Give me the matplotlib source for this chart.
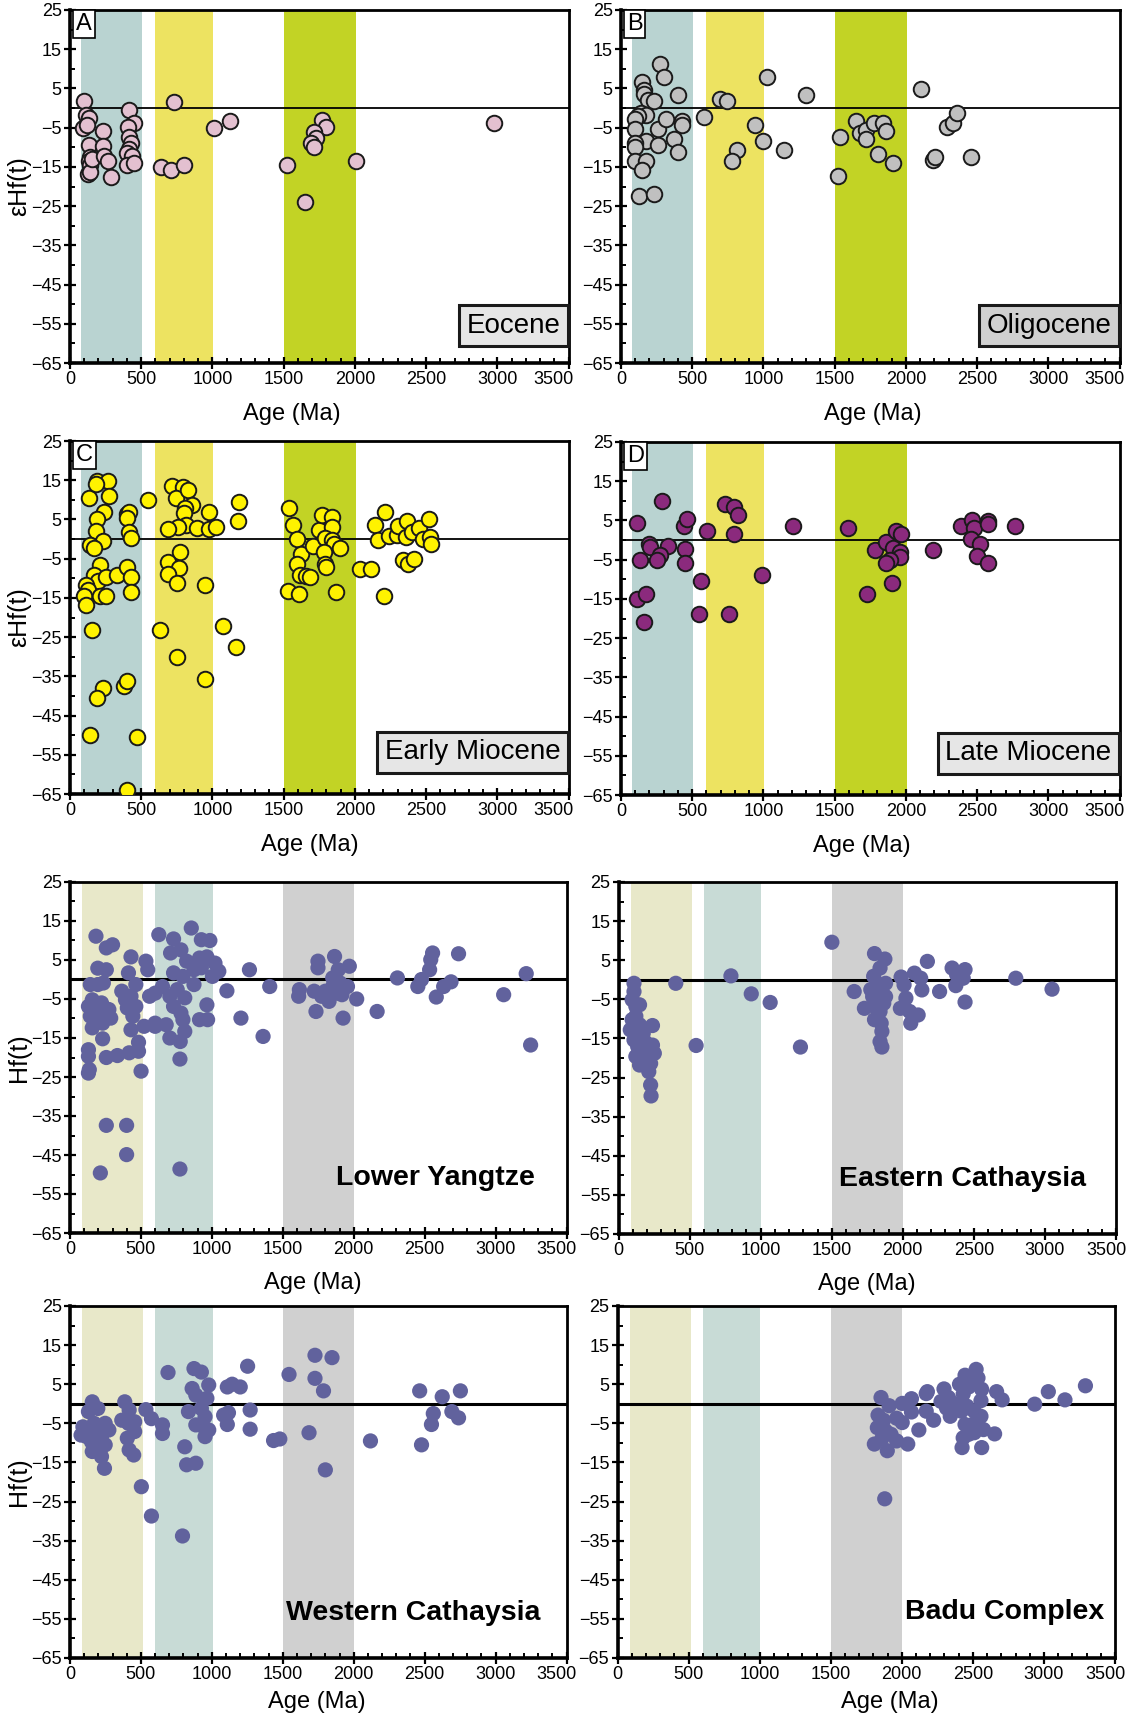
import matplotlib
matplotlib.use("Agg")
import matplotlib.pyplot as plt
import matplotlib.transforms as mtransforms
from matplotlib.ticker import MultipleLocator

plt.rcParams['font.family'] = ['Liberation Sans', 'DejaVu Sans']

# ---------------- data ----------------
eocene_age = [99,109,130,94,120,130,143,130,143,125,143,151,229,229,242,270,286,413,447,410,416,429,416,397,436,397,447,
              727,639,709,798,1011,1125,1522,1652,1767,1798,1710,1728,1694,1710,2006,2975]
eocene_hf = [1.9,-1.7,-2.6,-5.0,-4.3,-9.5,-12.4,-13.5,-14.5,-16.8,-16.4,-13.0,-5.8,-9.8,-12.1,-13.6,-17.6,-0.6,-3.8,-4.8,-7.3,-9.0,-10.4,-11.5,-12.1,-14.6,-14.0,
             1.5,-15.1,-15.7,-14.5,-5.2,-3.3,-14.6,-23.9,-3.0,-4.8,-6.2,-7.7,-9.0,-10.0,-13.5,-3.8]

oligocene_age = [273,304,148,164,158,190,231,398,143,174,117,99,99,257,317,429,429,372,177,99,99,257,400,99,174,145,125,231,
                 585,696,746,940,995,813,782,1026,1141,1296,1522,1538,1650,1681,1723,1723,1777,1839,1863,1806,1907,
                 2104,2190,2206,2289,2330,2359,2460]
oligocene_hf = [11.2,8.0,6.6,4.6,3.6,2.1,1.9,3.4,-1.3,-1.7,-2.0,-2.8,-5.3,-5.3,-2.8,-3.2,-4.4,-7.9,-8.5,-8.8,-9.9,-9.5,-11.1,-13.6,-13.6,-15.7,-22.4,-21.9,
                -2.2,2.3,1.9,-4.4,-8.4,-10.6,-13.6,8.0,-10.6,3.4,-17.2,-7.4,-3.3,-6.4,-5.7,-7.9,-3.8,-3.8,-5.8,-11.6,-14.1,
                4.9,-13.2,-12.5,-4.8,-3.8,-1.2,-12.5]

early_miocene_age = [130,187,265,182,273,242,187,182,229,140,171,403,416,403,416,429,213,169,195,255,327,403,429,429,109,125,99,208,255,114,156,229,187,377,403,140,473,403,
                     717,795,743,831,857,805,800,813,759,688,889,977,977,1026,774,688,764,688,748,948,629,748,948,1076,1164,1190,1180,548,
                     1538,1564,1593,1624,1593,1616,1655,1684,1533,1611,1704,1746,1767,1839,1837,1788,1837,1852,1780,1793,1798,1897,1865,2034,2110,
                     2138,2211,2164,2237,2297,2300,2364,2356,2398,2338,2372,2414,2208,2447,2481,2520,2525,2538]
early_miocene_hf = [10.4,14.9,14.7,14.1,11.0,6.9,5.2,2.1,-0.5,-1.6,-2.3,6.5,7.0,5.4,1.7,0.3,-6.6,-9.1,-10.8,-9.8,-9.1,-7.0,-9.7,-13.4,-11.6,-12.9,-14.6,-14.4,-14.4,-16.9,-23.2,-37.9,-40.6,-37.4,-36.2,-49.9,-50.5,-64.1,
                    13.5,13.3,10.4,12.5,8.8,7.9,6.6,3.5,3.2,2.6,2.9,6.8,2.6,3.0,-3.2,-5.8,-7.5,-9.0,-11.2,-11.6,-23.2,-30.0,-35.8,-22.2,-27.4,9.4,4.7,10.0,
                    7.9,3.6,0.1,-3.7,-6.4,-9.1,-9.5,-9.6,-13.2,-14.1,-1.8,2.2,6.2,5.5,3.0,0.3,-0.2,-1.2,-3.4,-6.4,-7.2,-2.2,-13.4,-7.7,-7.7,
                    3.6,6.8,-0.2,0.7,1.1,3.4,4.5,0.4,1.9,-5.4,-6.4,-5.0,-14.4,2.9,0.0,5.1,0.5,-1.3]

late_miocene_age = [112,288,200,205,330,273,255,130,112,174,161,444,462,449,449,605,559,546,733,792,821,790,761,992,1208,
                    1595,1725,1785,1858,1930,1967,1910,1956,1962,1889,1858,1902,2188,2385,2463,2476,2460,2520,2502,2577,2577,2580,2767]
late_miocene_hf = [4.3,9.9,-1.1,-1.8,-1.5,-3.7,-5.2,-5.0,-15.1,-13.7,-21.0,3.7,5.4,-2.4,-5.8,2.2,-10.5,-18.8,9.1,8.4,6.3,1.6,-18.8,-8.8,3.7,
                   3.1,-13.7,-2.5,-0.5,2.3,1.6,-2.0,-3.1,-4.2,-5.0,-5.8,-11.0,-2.5,3.7,5.0,3.1,0.2,-1.1,-4.1,-5.8,4.8,4.0,3.7]

lower_yangtze_age = [183,256,300,196,256,430,412,143,196,235,130,157,188,222,274,143,196,248,287,157,230,230,130,130,136,130,256,334,417,483,483,501,256,399,399,214,
                     365,391,430,404,464,443,430,464,522,535,548,600,561,600,
                     626,730,855,926,986,709,782,822,913,965,1022,1049,730,796,874,926,1004,652,704,756,809,874,730,782,796,965,913,970,704,777,809,775,775,600,678,
                     1106,1265,1408,1205,1361,1617,1612,1721,1734,1748,1748,1774,1826,1865,1891,1969,1852,1904,1956,1878,1917,1852,1800,1925,2021,2165,
                     2308,2452,2478,2535,2543,2556,2582,2634,2686,2739,3057,3216,3247]
lower_yangtze_hf = [11.1,8.1,8.9,2.9,2.5,5.8,1.7,-1.3,-1.3,-0.9,-6.9,-5.2,-7.3,-6.0,-7.7,-9.4,-9.4,-9.0,-9.9,-12.4,-11.2,-15.2,-18.0,-19.7,-23.1,-24.0,-20.0,-19.5,-18.8,-18.4,-16.1,-23.5,-37.4,-37.4,-44.9,-49.6,
                    -3.0,-5.2,-4.3,-7.3,-1.3,-9.4,-12.9,-6.9,-12.0,4.7,2.5,-12.0,-4.3,-3.5,
                    11.5,10.4,13.2,10.2,10.0,6.8,7.6,4.7,5.5,5.8,4.2,2.1,1.7,0.8,2.5,3.0,0.8,-1.8,-4.3,-2.6,-4.7,-1.3,-6.9,-8.6,-10.3,-6.5,-10.3,-10.3,-15.0,-15.9,-13.3,-20.4,-48.6,-11.2,-11.6,
                    -2.9,2.5,-1.8,-9.9,-14.6,-2.6,-4.3,-3.0,-8.2,4.7,3.0,-4.3,-5.6,5.9,2.5,3.4,0.4,-0.9,-1.8,-3.5,-3.9,-1.8,-3.0,-9.9,-5.0,-8.2,
                    0.4,-1.8,0.0,2.5,5.1,6.8,-4.5,-1.8,-0.6,6.6,-3.9,1.5,-16.8]

eastern_cathaysia_age = [109,109,96,122,148,96,122,148,109,135,161,122,148,187,213,239,239,252,226,213,226,229,174,187,83,
                         403,546,791,934,1067,1280,1501,1658,1730,1801,1874,1840,1795,1827,1775,1853,1788,1827,1866,1801,1840,1801,1848,1853,1840,1853,1879,1879,
                         1988,2009,2082,2126,2134,2022,1983,2048,2108,2056,2173,2259,2347,2379,2373,2438,2425,2438,2795,3050]
eastern_cathaysia_hf = [-0.9,-3.0,-5.1,-6.8,-6.4,-10.2,-9.3,-11.5,-15.4,-17.1,-18.8,-19.6,-21.8,-20.5,-17.1,-11.7,-16.7,-18.8,-21.4,-23.5,-26.9,-29.7,-13.7,-15.9,-12.8,
                        -0.9,-16.8,1.0,-3.6,-5.8,-17.2,9.6,-3.0,-7.3,6.7,5.3,3.0,0.9,-1.3,-2.5,-3.0,-4.3,-5.1,-6.0,-6.8,-8.1,-10.2,-11.1,-13.2,-15.8,-17.2,-0.9,-4.3,
                        0.7,-1.3,1.7,0.4,-2.6,-4.7,-7.3,-8.1,-9.0,-11.1,4.7,-3.0,3.0,1.3,-1.5,2.6,0.4,-5.7,0.4,-2.4]

western_cathaysia_age = [157,196,130,91,78,117,143,170,196,222,248,274,183,248,157,222,243,151,386,417,365,456,456,412,404,417,449,535,574,503,574,
                         691,874,926,978,861,887,965,835,926,952,887,939,978,952,652,652,809,822,887,793,
                         1109,1143,1200,1252,1083,1109,1117,1270,1270,1435,1479,1544,1685,1727,1847,1727,1787,1800,2118,
                         2465,2478,2561,2548,2624,2692,2739,2752]
western_cathaysia_hf = [0.5,-1.2,-2.0,-5.9,-8.0,-8.4,-6.7,-5.0,-6.7,-8.4,-5.0,-6.7,-10.1,-10.5,-12.2,-13.5,-16.5,-9.7,0.5,-1.6,-4.2,-4.6,-7.1,-5.0,-8.8,-11.8,-13.1,-1.5,-3.8,-21.2,-28.7,
                        8.0,9.0,8.1,4.8,3.9,2.2,1.4,-2.0,-1.2,-3.3,-5.4,-5.8,-6.7,-8.4,-5.4,-7.6,-11.0,-15.6,-15.2,-33.8,
                        4.3,5.0,4.3,9.6,-2.9,-5.3,-2.3,-1.6,-6.5,-9.4,-9.0,7.5,-7.4,12.4,11.8,6.5,3.3,-16.9,-9.5,
                        3.3,-10.5,-2.5,-5.3,1.8,-2.0,-3.6,3.3]

badu_age = [1854,1911,1833,1872,1964,2003,1828,1885,1924,1807,1859,1898,1964,2042,1880,2003,2068,2068,2120,2172,2180,2172,2224,2297,2276,2315,2341,2328,2380,
            2406,2432,2445,2471,2497,2523,2536,2562,2557,2419,2458,2510,2557,2445,2497,2510,2432,2471,2575,2653,2424,2562,2667,2706,2935,3031,3148,3292]
badu_hf = [1.6,-0.5,-2.9,-4.2,-3.7,-4.8,-6.1,-6.9,-7.8,-10.3,-9.0,-12.0,-9.5,-10.3,-24.3,0.1,1.3,-2.1,-6.7,2.6,3.1,-1.9,-4.2,3.8,0.6,-1.1,-3.2,1.6,-0.1,
           5.0,2.5,7.3,4.3,6.2,8.8,6.6,3.7,0.8,-1.9,-0.6,-1.9,-3.2,-5.3,-5.3,-7.4,-8.7,-7.8,-6.6,-7.7,-11.2,-11.2,3.1,1.0,-0.1,3.1,1.0,4.6]

# shaded age windows (Ma)
bands_top = [(75, 505), (600, 1005), (1500, 2010)]
bands_bottom = [(85, 515), (600, 1005), (1505, 2005)]
band_colors_top = ['#b9d3d1', '#ede361', '#c2d325']
band_colors_bottom = ['#e8e8c9', '#c8dbd6', '#d0d0d0']

x_ticks = [0, 500, 1000, 1500, 2000, 2500, 3000, 3500]
y_ticks = [-65, -55, -45, -35, -25, -15, -5, 5, 15, 25]

panel_letters = ['A', 'B', 'C', 'D']
period_names = ['Eocene', 'Oligocene', 'Early Miocene', 'Late Miocene']
period_box_colors = ['#e6e6e6', '#d0d0d0', '#e6e6e6', '#e6e6e6']
marker_colors = ['#e3c0d0', '#c0c0c0', '#fff200', '#8b2a7d']
region_names = ['Lower Yangtze', 'Eastern Cathaysia', 'Western Cathaysia', 'Badu Complex']
region_color = '#61629d'

top_data = [(eocene_age, eocene_hf), (oligocene_age, oligocene_hf),
            (early_miocene_age, early_miocene_hf), (late_miocene_age, late_miocene_hf)]
bottom_data = [(lower_yangtze_age, lower_yangtze_hf), (eastern_cathaysia_age, eastern_cathaysia_hf),
               (western_cathaysia_age, western_cathaysia_hf), (badu_age, badu_hf)]

# ---------------- figure ----------------
W, H = 1140, 1718
fig = plt.figure(figsize=(W / 100, H / 100), dpi=100)

def px_axes(left, top, right, bottom):
    return fig.add_axes([left / W, 1 - bottom / H, (right - left) / W, (bottom - top) / H])

top_boxes = [(70, 10, 568.5, 363), (621, 10, 1119.5, 363), (70, 441, 568.5, 794), (621, 442, 1119.5, 795)]
bottom_boxes = [(70, 882, 566.5, 1233), (618.5, 882, 1116, 1234), (70, 1306, 566.5, 1658), (617.5, 1306, 1115, 1658)]
top_xlabel_pos = [(0.445, -0.112), (0.506, -0.112), (0.481, -0.114), (0.483, -0.114)]
bottom_xlabel_pos = [(0.49, -0.112), (0.50, -0.112), (0.497, -0.094), (0.548, -0.094)]
period_box_y = [0.106, 0.106, 0.118, 0.118]
region_text_pos = [(0.937, 0.157), (0.94, 0.157), (0.948, 0.129), (0.978, 0.131)]

def style_axes(ax, xlabel_pos, last_shift_px):
    ax.set_xlim(0, 3500)
    ax.set_ylim(-65, 25)
    ax.set_xticks(x_ticks)
    ax.xaxis.set_minor_locator(MultipleLocator(100))
    ax.set_yticks(y_ticks)
    ax.yaxis.set_minor_locator(MultipleLocator(5))
    ax.tick_params(which='major', direction='inout', length=9, width=1.6, labelsize=13, pad=1.5)
    ax.tick_params(which='minor', direction='in', length=3.8, width=1.4)
    for s in ['left', 'bottom']:
        ax.spines[s].set_linewidth(2.6)
    for s in ['top', 'right']:
        ax.spines[s].set_linewidth(2.0)
    ax.set_xlabel('Age (Ma)', fontsize=17)
    ax.xaxis.set_label_coords(*xlabel_pos)
    last = ax.get_xticklabels()[-1]
    last.set_transform(last.get_transform() +
                       mtransforms.ScaledTranslation(last_shift_px / 100, 0, fig.dpi_scale_trans))

for i, (box, (age, hf)) in enumerate(zip(top_boxes, top_data)):
    ax = px_axes(*box)
    for (a, b), c in zip(bands_top, band_colors_top):
        ax.axvspan(a, b, color=c, lw=0, zorder=0)
    ax.axhline(0, color='black', lw=1.3, zorder=1)
    ax.scatter(age, hf, s=125, c=marker_colors[i], edgecolors='#1a1a1a', linewidths=1.4, zorder=3)
    style_axes(ax, top_xlabel_pos[i], -15)
    if i % 2 == 0:
        ax.set_ylabel('εHf(t)', fontsize=18, labelpad=0)
    ax.text(0.012, 0.992, panel_letters[i], transform=ax.transAxes, fontsize=17, ha='left', va='top',
            bbox=dict(boxstyle='square,pad=0.12', fc='white', ec='black', lw=1.2), zorder=5)
    ax.text(0.984, period_box_y[i], period_names[i], transform=ax.transAxes, fontsize=20, ha='right', va='center',
            bbox=dict(boxstyle='square,pad=0.28', fc=period_box_colors[i], ec='#1a1a1a', lw=2.2), zorder=5)

for i, (box, (age, hf)) in enumerate(zip(bottom_boxes, bottom_data)):
    ax = px_axes(*box)
    for (a, b), c in zip(bands_bottom, band_colors_bottom):
        ax.axvspan(a, b, color=c, lw=0, zorder=0)
    ax.axhline(0, color='black', lw=2.2, zorder=1)
    ax.scatter(age, hf, s=120, c=region_color, edgecolors='none', zorder=3)
    style_axes(ax, bottom_xlabel_pos[i], -10)
    if i % 2 == 0:
        ax.set_ylabel('Hf(t)', fontsize=18, labelpad=0)
    ax.text(*region_text_pos[i], region_names[i], transform=ax.transAxes, fontsize=20.5, fontweight='bold',
            ha='right', va='center', zorder=5)

fig.savefig('out.png', dpi=100)
